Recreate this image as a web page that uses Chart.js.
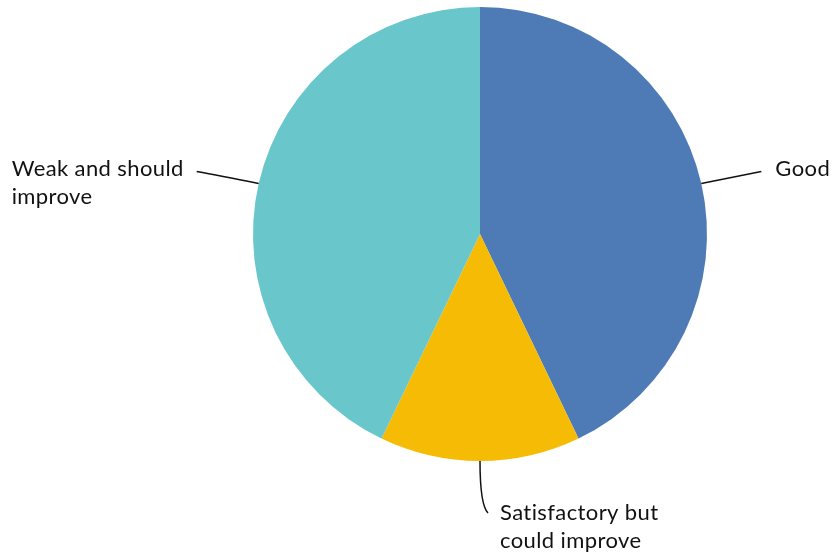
<!DOCTYPE html>
<html>
<head>
<meta charset="utf-8">
<script src="https://cdn.jsdelivr.net/npm/chart.js@4/dist/chart.umd.min.js"></script>
<style>
  html, body { margin: 0; padding: 0; background: #ffffff; }
  #wrap { width: 833px; height: 554px; position: relative; }
</style>
</head>
<body>
<div id="wrap"><canvas id="chart"></canvas></div>
<script>
// Survey answers: share of responses per rating
const categories = ['Good', 'Satisfactory but could improve', 'Weak and should improve'];
const labelLines = [['Good'], ['Satisfactory but', 'could improve'], ['Weak and should', 'improve']];
const values = [3, 1, 3];
const colors = ['#4e7bb5', '#f6bc05', '#69c6cb'];

// Leader-line geometry per slice: bend point and text anchor, relative to the edge point
const leaderStyle = [
  { bend: [40, -8], end: [60, -12], text: [74, -15], align: 'left' },
  { bend: [0, 44], end: [8, 52], text: [20, 52], align: 'left' },
  { bend: [-40, -8], end: [-62, -12], text: [-247, -15], align: 'left' }
];

const calloutPlugin = {
  id: 'callouts',
  afterDatasetsDraw(chart) {
    const ctx = chart.ctx;
    const meta = chart.getDatasetMeta(0);
    ctx.save();
    ctx.font = '22px Lato, "Open Sans", sans-serif';
    if ('letterSpacing' in ctx) ctx.letterSpacing = '0.4px';
    ctx.fillStyle = '#111111';
    ctx.strokeStyle = '#111111';
    ctx.lineWidth = 1.5;
    ctx.textBaseline = 'middle';
    meta.data.forEach((arc, i) => {
      const p = arc.getProps(['x', 'y', 'startAngle', 'endAngle', 'outerRadius'], true);
      const mid = (p.startAngle + p.endAngle) / 2;
      const ex = p.x + Math.cos(mid) * p.outerRadius;
      const ey = p.y + Math.sin(mid) * p.outerRadius;
      const s = leaderStyle[i];
      ctx.beginPath();
      ctx.moveTo(ex, ey);
      ctx.quadraticCurveTo(ex + s.bend[0], ey + s.bend[1], ex + s.end[0], ey + s.end[1]);
      ctx.stroke();
      ctx.textAlign = s.align;
      labelLines[i].forEach((line, k) => {
        ctx.fillText(line, ex + s.text[0], ey + s.text[1] + k * 28);
      });
    });
    ctx.restore();
  }
};

new Chart(document.getElementById('chart'), {
  type: 'pie',
  data: {
    labels: categories,
    datasets: [{
      data: values,
      backgroundColor: colors,
      borderWidth: 0
    }]
  },
  options: {
    responsive: true,
    maintainAspectRatio: false,
    animation: false,
    layout: { padding: { top: 7, bottom: 93, left: 253, right: 126 } },
    plugins: {
      legend: { display: false },
      tooltip: { enabled: false }
    }
  },
  plugins: [calloutPlugin]
});
</script>
</body>
</html>
